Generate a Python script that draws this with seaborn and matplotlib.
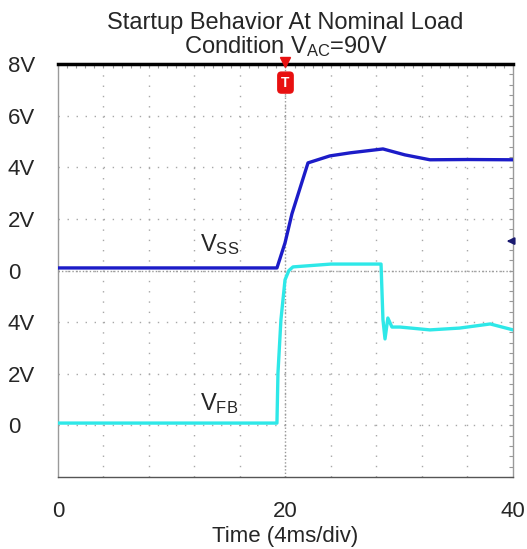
import matplotlib
matplotlib.use('Agg')
import matplotlib.pyplot as plt
import seaborn as sns
import numpy as np
import pandas as pd

# Trace data (time in ms, volts)
t_ss = [0, 19.25, 19.96, 20.57, 21.98, 23.9, 25.7, 28.57, 30.5, 32.7, 36.0, 40]
v_ss = [0.10, 0.10, 1.07, 2.2, 4.17, 4.44, 4.56, 4.71, 4.48, 4.29, 4.30, 4.29]

t_fb = [0, 19.25, 19.34, 19.6, 19.96, 20.3, 20.66, 24.0, 28.4, 28.57, 28.75,
        29.0, 29.36, 30.07, 32.7, 35.3, 38.0, 40]
v_fb = [0.09, 0.09, 2.03, 4.09, 5.64, 6.0, 6.14, 6.25, 6.25, 4.09, 3.35,
        4.16, 3.81, 3.81, 3.70, 3.77, 3.93, 3.70]

# scope settings: 2V/div, ground of each channel (in divisions from bottom)
ss_ground, fb_ground, volts_per_div = 4, 1, 2

y_tick_pos = [1, 2, 3, 4, 5, 6, 7, 8]
y_tick_labels = ['0', '2V', '4V', '0', '2V', '4V', '6V', '8V']
x_tick_pos = [0, 20, 40]

df_ss = pd.DataFrame({'t': t_ss, 'y': np.array(v_ss) / volts_per_div + ss_ground})
df_fb = pd.DataFrame({'t': t_fb, 'y': np.array(v_fb) / volts_per_div + fb_ground})

sns.set_style('white')
plt.rcParams['font.family'] = ['Liberation Sans', 'DejaVu Sans']
plt.rcParams['mathtext.default'] = 'regular'

fs = 16
fig = plt.figure(figsize=(5.27, 5.49), dpi=100)
ax = fig.add_axes([0.110, 0.1311, 0.8634, 0.7523])

# graticule
grid_c = '#a8a8a8'
for gx in range(4, 40, 4):
    ax.axvline(gx, color=grid_c, lw=1, ls=(0, (1, 6.4)), zorder=0)
for gy in range(1, 8):
    ax.axhline(gy, color=grid_c, lw=1, ls=(0, (1, 5.5)), zorder=0)
ax.axvline(20, color='#999999', lw=1, ls=(0, (1, 1.5)), zorder=0)
ax.axhline(4, color='#999999', lw=1, ls=(0, (1, 1.5)), zorder=0)

sns.lineplot(data=df_fb, x='t', y='y', color='#2ee8e8', lw=2.4, estimator=None, ax=ax, zorder=3)
sns.lineplot(data=df_ss, x='t', y='y', color='#1c1cc8', lw=2.4, estimator=None, ax=ax, zorder=4)

ax.set_xlim(0, 40)
ax.set_ylim(0, 8)
ax.set_xticks(x_tick_pos)
ax.set_xticklabels([str(v) for v in x_tick_pos], fontsize=fs)
ax.set_xticks(np.arange(0, 40.01, 0.8), minor=True)
ax.set_yticks(y_tick_pos)
ax.set_yticklabels(y_tick_labels, fontsize=fs, ha='left')
ax.set_yticks(np.arange(0, 8.01, 0.2), minor=True)
ax.tick_params(axis='y', which='major', pad=36)
ax.tick_params(axis='x', which='major', pad=17)
ax.tick_params(which='both', direction='in', length=3, color='#999999',
               top=True, right=True, width=0.8)

ax.set_xlabel('Time (4ms/div)', fontsize=fs, labelpad=3)
ax.set_ylabel('')
ax.set_title('Startup Behavior At Nominal Load\nCondition V$_{AC}$=90V',
             fontsize=17, pad=8, linespacing=1.0)

for side in ['left', 'right', 'bottom']:
    ax.spines[side].set_color('#9a9a9a')
    ax.spines[side].set_linewidth(1)
ax.spines['bottom'].set_color('#555555')
ax.spines['top'].set_color('black')
ax.spines['top'].set_linewidth(2.5)

# trace labels
ax.text(12.5, 4.5, 'V$_{SS}$', fontsize=fs + 1, va='center')
ax.text(12.5, 1.43, 'V$_{FB}$', fontsize=fs + 1, va='center')

# trigger marker and channel offset arrow
ax.plot([20], [8.04], marker='v', color='#e81010', ms=7, clip_on=False, zorder=6)
ax.text(20, 7.64, 'T', color='white', fontsize=10, fontweight='bold', ha='center', va='center',
        bbox=dict(boxstyle='round,pad=0.25', fc='#e81010', ec='#e81010'), zorder=6)
ax.annotate('', xy=(39.2, 4.57), xytext=(40, 4.57),
            arrowprops=dict(arrowstyle='-|>', color='#1a1a70', lw=1.5, mutation_scale=10))

fig.savefig('out.png', dpi=100)
